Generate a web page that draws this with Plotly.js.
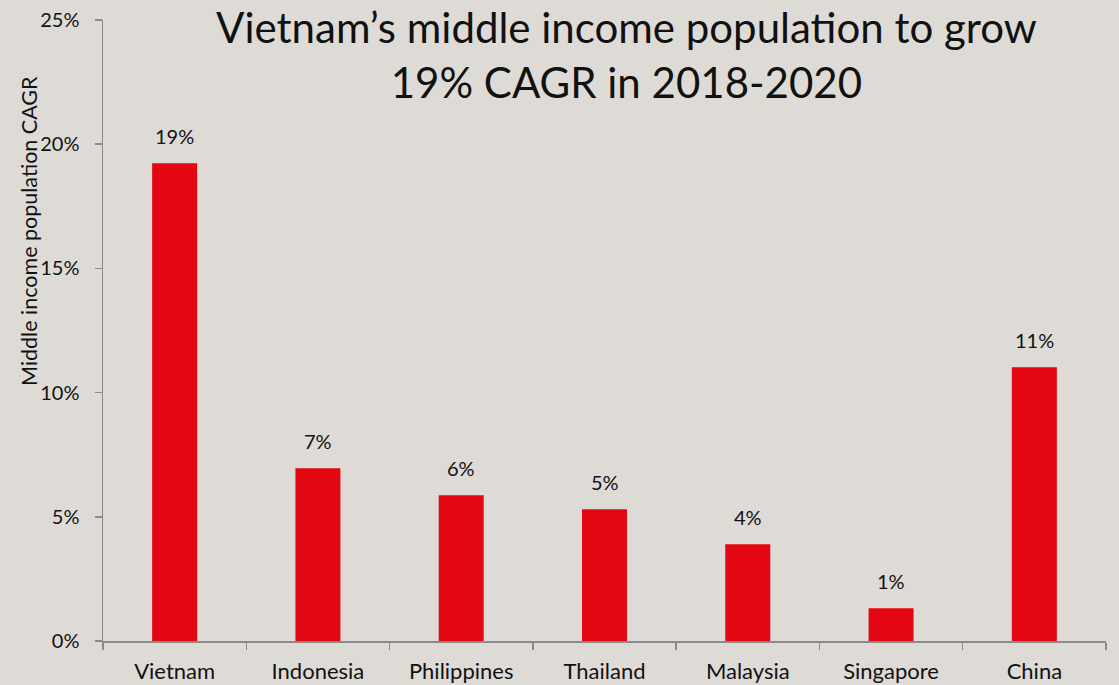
<!DOCTYPE html>
<html>
<head>
<meta charset="utf-8">
<script src="https://cdn.plot.ly/plotly-3.0.1.min.js"></script>
<style>
html,body{margin:0;padding:0;background:#dedbd7;}
#chart{width:1119px;height:685px;}
</style>
</head>
<body>
<div id="chart"></div>
<script>
const countries = ["Vietnam","Indonesia","Philippines","Thailand","Malaysia","Singapore","China"];
const cagr = [0.1923, 0.0695, 0.0587, 0.0530, 0.0389, 0.0132, 0.1102];
const labels = ["19%","7%","6%","5%","4%","1%","11%"];
const titleText = "Vietnam’s middle income population to grow<br>19% CAGR in 2018-2020";
const yTitle = "Middle income population CAGR";

const FONT = "Lato, 'Open Sans', sans-serif";

const trace = {
  type: "bar",
  x: countries,
  y: cagr,
  marker: {color: "#e30613"},
  hoverinfo: "x+y"
};

const annotations = countries.map((c, i) => ({
  x: c, y: cagr[i], xref: "x", yref: "y",
  text: labels[i], showarrow: false,
  yanchor: "bottom", yshift: 13,
  font: {family: FONT, size: 20, color: "#111"}
}));
annotations.push({
  xref: "paper", yref: "paper", x: -0.074, y: 0.66,
  text: yTitle, showarrow: false, textangle: -90,
  xanchor: "center", yanchor: "middle",
  font: {family: FONT, size: 21.5, color: "#111"}
});
annotations.push({
  xref: "paper", yref: "paper", x: 0.522, y: 1.032,
  text: titleText, showarrow: false,
  xanchor: "center", yanchor: "top",
  font: {family: FONT, size: 42, color: "#111"}
});

const layout = {
  width: 1119, height: 685,
  paper_bgcolor: "#dedbd7",
  plot_bgcolor: "rgba(0,0,0,0)",
  margin: {l: 103, r: 13, t: 20, b: 44},
  showlegend: false,
  bargap: 0.686,
  xaxis: {
    type: "category",
    showline: true, linecolor: "#8a8a8a", linewidth: 1.5,
    ticks: "outside", tickson: "boundaries", ticklen: 7, tickcolor: "#8a8a8a", tickwidth: 1.5,
    showgrid: false, zeroline: false,
    tickfont: {family: FONT, size: 22, color: "#111"},
    ticklabelstandoff: 10
  },
  yaxis: {
    range: [0, 0.25],
    tickvals: [0, 0.05, 0.10, 0.15, 0.20, 0.25],
    tickformat: ".0%",
    showline: true, linecolor: "#8a8a8a", linewidth: 1.5,
    ticks: "outside", ticklen: 7, tickcolor: "#8a8a8a", tickwidth: 1.5,
    showgrid: false, zeroline: false,
    tickfont: {family: FONT, size: 20, color: "#111"},
    ticklabelstandoff: 11
  },
  annotations: annotations
};

Plotly.newPlot("chart", [trace], layout, {displayModeBar: false, staticPlot: true});
</script>
</body>
</html>
